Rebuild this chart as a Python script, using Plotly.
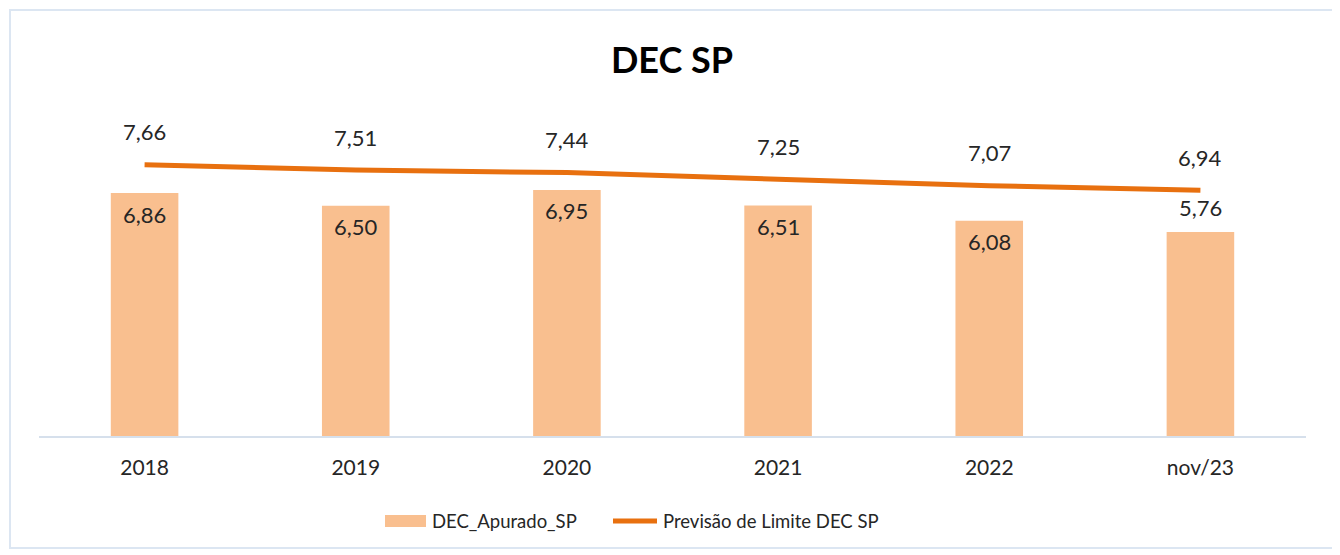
import plotly.graph_objects as go

categories = ["2018", "2019", "2020", "2021", "2022", "nov/23"]
dec_apurado = [6.86, 6.50, 6.95, 6.51, 6.08, 5.76]
previsao_limite = [7.66, 7.51, 7.44, 7.25, 7.07, 6.94]
legend_labels = ["DEC_Apurado_SP", "Previsão de Limite DEC SP"]

def fmt(v):
    return f"{v:.2f}".replace(".", ",")

BAR_COLOR = "#F9BF8F"
LINE_COLOR = "#E8700F"
FONT = "Lato, 'Open Sans', sans-serif"
TXT = "#262626"

# page body has an 8px margin: figure origin sits at (8, 8) of the window
OFF = 8
W, H = 1340 - OFF, 555 - OFF
PL, PR, PT, PB = 39 - OFF, 1306 - OFF, 100 - OFF, 436 - OFF
def px(x):
    return (x - OFF - PL) / (PR - PL)
def py(y):
    return (PB - (y - OFF)) / (PB - PT)

fig = go.Figure()
fig.add_trace(go.Bar(
    x=categories, y=dec_apurado, name=legend_labels[0],
    marker=dict(color=BAR_COLOR, line=dict(width=0)),
    width=0.32, hoverinfo="skip", showlegend=False,
))
fig.add_trace(go.Scatter(
    x=categories, y=previsao_limite, name=legend_labels[1],
    mode="lines", line=dict(color=LINE_COLOR, width=5, shape="linear"),
    hoverinfo="skip", showlegend=False,
))

annotations = []
for i, v in enumerate(dec_apurado):
    shift = 25 if i == len(categories) - 1 else -21
    annotations.append(dict(x=i, y=v, xref="x", yref="y", text=fmt(v), showarrow=False,
                            yshift=shift, font=dict(size=22, color=TXT, family=FONT)))
for i, v in enumerate(previsao_limite):
    annotations.append(dict(x=i, y=v, xref="x", yref="y", text=fmt(v), showarrow=False,
                            yshift=33, font=dict(size=22, color=TXT, family=FONT)))

# custom legend
annotations.append(dict(x=px(430), y=py(521), xref="paper", yref="paper", text=legend_labels[0],
                        showarrow=False, xanchor="left", yanchor="middle",
                        font=dict(size=18.5, color=TXT, family=FONT)))
annotations.append(dict(x=px(661), y=py(521), xref="paper", yref="paper", text=legend_labels[1],
                        showarrow=False, xanchor="left", yanchor="middle",
                        font=dict(size=18.5, color=TXT, family=FONT)))

shapes = [
    dict(type="rect", xref="paper", yref="paper",
         x0=px(10), x1=px(1333), y0=py(548), y1=py(10),
         line=dict(color="#DCE6F2", width=2), fillcolor="rgba(0,0,0,0)", layer="below"),
    dict(type="rect", xref="paper", yref="paper",
         x0=px(385), x1=px(426), y0=py(527), y1=py(515),
         line=dict(width=0), fillcolor=BAR_COLOR),
    dict(type="line", xref="paper", yref="paper",
         x0=px(613), x1=px(657), y0=py(521), y1=py(521),
         line=dict(color=LINE_COLOR, width=5)),
]

fig.update_layout(
    width=W, height=H,
    margin=dict(l=PL, r=W - PR, t=PT, b=H - PB),
    paper_bgcolor="white", plot_bgcolor="white",
    title=dict(text="<b>DEC SP</b>", x=(672 - OFF) / W, xanchor="center",
               y=1 - (60 - OFF) / H, yanchor="middle",
               font=dict(size=36, color="#000000", family=FONT)),
    font=dict(family=FONT, color=TXT),
    showlegend=False,
    xaxis=dict(type="category", range=[-0.5, len(categories) - 0.5],
               showline=True, linecolor="#D6E0EC", linewidth=2, ticks="outside",
               ticklen=12, tickcolor="rgba(0,0,0,0)", tickfont=dict(size=21, color=TXT),
               showgrid=False, zeroline=False, fixedrange=True),
    yaxis=dict(range=[0, 9.49], visible=False, showgrid=False, zeroline=False, fixedrange=True),
    annotations=annotations,
    shapes=shapes,
)

fig.write_html("out.html")
